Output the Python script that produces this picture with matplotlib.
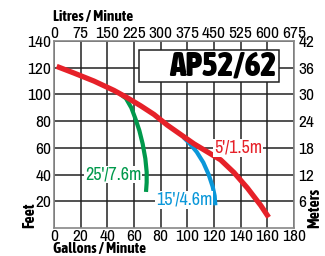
import matplotlib
matplotlib.use("Agg")
import matplotlib.pyplot as plt
from matplotlib.patches import Rectangle

plt.rcParams['font.family'] = ['Archivo Narrow', 'DejaVu Sans']
BOLD = ['Asap Condensed', 'DejaVu Sans']

# curves: (gallons/min, feet of head)
red_gpm = [2, 15, 30, 45, 55, 65, 75, 85, 95, 105, 115, 125, 135, 145, 155, 161]
red_ft = [121, 116, 110, 103, 97.5, 91.5, 85, 77, 70, 63, 57, 51, 41.5, 30, 17, 8]
green_gpm = [50, 54, 58, 61, 64, 66.5, 68.5, 69.5, 69.5, 69]
green_ft = [100, 97, 90, 82, 73, 63, 52, 42, 34, 27]
blue_gpm = [97, 102, 107, 112, 116, 119, 120.5, 121]
blue_ft = [68, 63, 57, 49, 40, 31, 24, 17]

gpm_ticks = [0, 20, 40, 60, 80, 100, 120, 140, 160, 180]
lpm_labels = ['0', '75', '150', '225', '300', '375', '450', '525', '600', '675']
ft_ticks = [20, 40, 60, 80, 100, 120, 140]
m_labels = ['6', '12', '18', '24', '30', '36', '42']

RED = '#e62129'
GREEN = '#00994c'
BLUE = '#0a97d9'

fig = plt.figure(figsize=(3.25, 2.56), dpi=100)
ax = fig.add_axes([54/325, 28/256, 240/325, 187/256])
ax.set_xlim(0, 180)
ax.set_ylim(0, 140)

ax.set_xticks(gpm_ticks)
ax.set_yticks(ft_ticks)
ax.grid(True, color='#222222', linewidth=1.1)
ax.set_axisbelow(True)
for s in ax.spines.values():
    s.set_color('#888888')
    s.set_linewidth(1.2)
ax.tick_params(axis='x', length=0, labelsize=12.5, pad=0.5)
ax.tick_params(axis='y', length=0, labelsize=12.5, pad=2)

# model box
ax.add_patch(Rectangle((63.5, 109), 105, 24, facecolor='white', edgecolor='#222222',
                       linewidth=1.1, zorder=2))
ax.text(167, 121, 'AP52/62', ha='right', va='center', fontsize=24, fontweight='black',
        family=BOLD, zorder=3)

ax.plot(red_gpm, red_ft, color=RED, linewidth=3.8, solid_capstyle='butt', zorder=5)
ax.plot(green_gpm, green_ft, color=GREEN, linewidth=3.0, solid_capstyle='butt', zorder=4)
ax.plot(blue_gpm, blue_ft, color=BLUE, linewidth=3.0, solid_capstyle='butt', zorder=4)

ax.text(138, 60, "5'/1.5m", color=RED, fontsize=13, ha='center', va='center',
        bbox=dict(facecolor='white', edgecolor='none', pad=0.5), zorder=6)
ax.text(44.5, 40, "25'/7.6m", color=GREEN, fontsize=13, ha='center', va='center',
        bbox=dict(facecolor='white', edgecolor='none', pad=0.5), zorder=6)
ax.text(97.5, 21, "15'/4.6m", color=BLUE, fontsize=13, ha='center', va='center',
        bbox=dict(facecolor='white', edgecolor='none', pad=0.5), zorder=6)

top = ax.twiny()
top.set_xlim(ax.get_xlim())
top.set_xticks(gpm_ticks)
top.set_xticklabels(lpm_labels)
top.tick_params(length=0, labelsize=12.5, pad=0)

right = ax.twinx()
right.set_ylim(ax.get_ylim())
right.set_yticks(ft_ticks)
right.set_yticklabels(m_labels)
right.tick_params(length=0, labelsize=12.5, pad=3)
for a in (top, right):
    for s in a.spines.values():
        s.set_visible(False)

fig.text(53/325, 1 - 17/256, 'Litres / Minute', fontsize=11, fontweight='bold',
         family=BOLD, ha='left', va='center')
fig.text(53/325, 3/256, 'Gallons / Minute', fontsize=11, fontweight='bold',
         family=BOLD, ha='left', va='baseline')
fig.text(29/325, 28/256, 'Feet', fontsize=11.5, fontweight='bold', family=BOLD,
         rotation=90, ha='center', va='bottom')
fig.text(314/325, 28/256, 'Meters', fontsize=11.5, fontweight='bold', family=BOLD,
         rotation=90, ha='center', va='bottom')

fig.savefig('out.png', dpi=100)
